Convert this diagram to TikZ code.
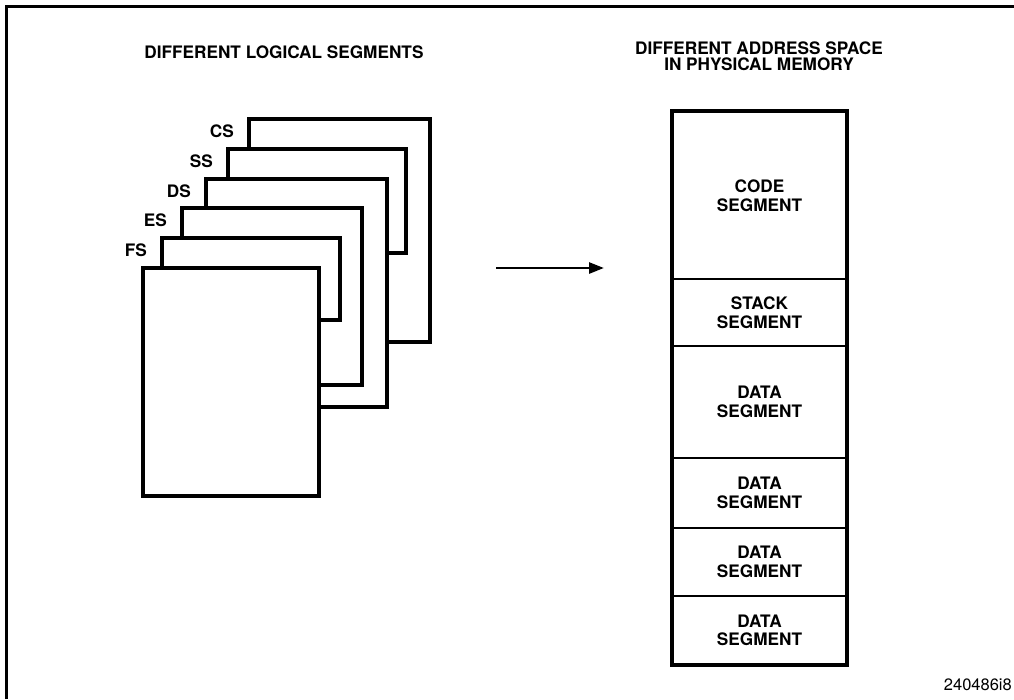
\documentclass[tikz,border=0pt]{standalone}
\usepackage{fontspec}
\setmainfont{TeX Gyre Heros}
\usetikzlibrary{arrows.meta,positioning}
\begin{document}
\begin{tikzpicture}[
  x=1pt, y=-1pt,
  font=\bfseries\fontsize{17.2}{18.5}\selectfont,
  page/.style={draw=black, fill=white, rectangle, line width=3.5pt, outer sep=0pt,
               inner sep=0pt, anchor=north west},
  seglbl/.style={anchor=east, inner sep=0pt},
  memseg/.style={draw=black, rectangle, line width=2.2pt, minimum width=175pt,
                 outer sep=0pt, inner sep=0pt, align=center},
  title/.style={align=center, inner sep=0pt, font=\bfseries\fontsize{17.2}{16}\selectfont},
  arrow/.style={-{Triangle[length=15pt, width=11pt]}, line width=2.6pt},
]
  \useasboundingbox (0,0) rectangle (1014,699);
  \draw[line width=3pt] (6,699) -- (6,6) -- (1014,6);

  \node[title] (logtitle) at (284,52) {DIFFERENT LOGICAL SEGMENTS};
  \node[title] (phystitle) at (759,56) {DIFFERENT ADDRESS SPACE\\IN PHYSICAL MEMORY};

  \node[page, minimum width=181pt, minimum height=223pt] (cs) at (249,119) {};
  \node[page, minimum width=178pt, minimum height=104pt] (ss) at (228,149) {};
  \node[page, minimum width=181pt, minimum height=228pt] (ds) at (206,179) {};
  \node[page, minimum width=180pt, minimum height=177pt] (es) at (182,208) {};
  \node[page, minimum width=178pt, minimum height=82pt] (fs) at (162,238) {};
  \node[page, minimum width=176pt, minimum height=228pt] (gs) at (143,268) {};

  \node[seglbl] (cslbl) at ([xshift=-15pt, yshift=-12pt]cs.north west) {CS};
  \node[seglbl] (sslbl) at ([xshift=-15pt, yshift=-12pt]ss.north west) {SS};
  \node[seglbl] (dslbl) at ([xshift=-15pt, yshift=-12pt]ds.north west) {DS};
  \node[seglbl] (eslbl) at ([xshift=-15pt, yshift=-12pt]es.north west) {ES};
  \node[seglbl] (fslbl) at ([xshift=-15pt, yshift=-12pt]fs.north west) {FS};

  \coordinate (arrowtail) at (496,268);
  \coordinate (arrowtip) at (604,268);
  \draw[arrow] (arrowtail) -- (arrowtip);

  \node[memseg, minimum height=168pt, anchor=north west] (code) at (672,111) {\\[-4pt]CODE\\SEGMENT};
  \node[memseg, minimum height=67pt, below=0pt of code] (stack) {STACK\\SEGMENT};
  \node[memseg, minimum height=112pt, below=0pt of stack] (dataa) {DATA\\SEGMENT};
  \node[memseg, minimum height=70pt, below=0pt of dataa] (datab) {DATA\\SEGMENT};
  \node[memseg, minimum height=68pt, below=0pt of datab] (datac) {DATA\\SEGMENT};
  \node[memseg, minimum height=69pt, below=0pt of datac] (datad) {DATA\\SEGMENT};
  \draw[line width=3.5pt] (code.north west) rectangle (datad.south east);

  \node[font=\fontsize{16.5}{18}\selectfont, anchor=east, inner sep=0pt] (figno)
    at (1012,685) {240486i8};
\end{tikzpicture}
\end{document}
